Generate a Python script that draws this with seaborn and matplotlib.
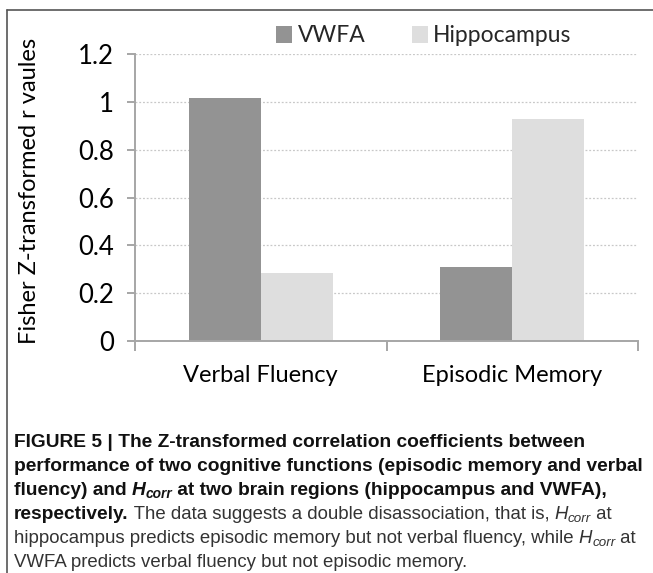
import matplotlib
matplotlib.use('Agg')
import matplotlib.pyplot as plt
import seaborn as sns
import pandas as pd
from matplotlib.lines import Line2D
from matplotlib.patches import Patch

# data
tasks = ['Verbal Fluency', 'Episodic Memory']
regions = ['VWFA', 'Hippocampus']
vwfa = [1.015, 0.31]
hippocampus = [0.285, 0.93]
y_ticks = [0, 0.2, 0.4, 0.6, 0.8, 1, 1.2]
y_tick_labels = ['0', '0.2', '0.4', '0.6', '0.8', '1', '1.2']
colors = {'VWFA': '#939393', 'Hippocampus': '#dedede'}

df = pd.DataFrame({
    'task': tasks + tasks,
    'region': ['VWFA'] * 2 + ['Hippocampus'] * 2,
    'value': vwfa + hippocampus,
})

sns.set_theme(style='white')
plt.rcParams['font.family'] = ['Lato', 'DejaVu Sans']

W, H = 653, 573
fig = plt.figure(figsize=(W / 100, H / 100), dpi=100)
ax = fig.add_axes([135 / W, 1 - 341 / H, 503 / W, 287 / H])

sns.barplot(data=df, x='task', y='value', hue='region', order=tasks,
            hue_order=regions, palette=colors, width=0.573, saturation=1,
            linewidth=0, legend=False, ax=ax)

ax.set_xlim(-0.5, 1.5)
ax.set_ylim(0, 1.2)
ax.set_yticks(y_ticks)
ax.set_yticklabels(y_tick_labels)
ax.set_xlabel('')
ax.set_ylabel('')
ax.set_axisbelow(True)
ax.yaxis.grid(True, linestyle=(0, (1.5, 1.5)), color='#c8c8c8', linewidth=0.9)
ax.xaxis.grid(False)

axis_grey = '#a6a6a6'
for side in ['top', 'right']:
    ax.spines[side].set_visible(False)
for side in ['left', 'bottom']:
    ax.spines[side].set_color(axis_grey)
    ax.spines[side].set_linewidth(1.4)

ax.tick_params(axis='y', which='major', left=True, length=6, width=1.4,
               color=axis_grey, labelsize=18.5, labelcolor='black', pad=9)
ax.tick_params(axis='x', which='major', length=0, labelsize=17,
               labelcolor='black', pad=17)
ax.set_xticks([-0.5, 0.5, 1.5], minor=True)
ax.tick_params(axis='x', which='minor', bottom=True, length=7, width=1.4,
               color=axis_grey)

fig.text(30 / W, 1 - 191 / H, 'Fisher Z-transformed r vaules', rotation=90,
         ha='center', va='center', fontsize=17, color='black')

handles = [Patch(facecolor=colors[r], edgecolor='none', label=r) for r in regions]
fig.legend(handles=handles, loc='center', bbox_to_anchor=(424 / W, 1 - 36 / H),
           ncol=2, frameon=False, fontsize=16.5, handlelength=0.7,
           handleheight=0.7, handletextpad=0.25, columnspacing=2.0,
           borderpad=0)

# frame lines (top and left) around the figure panel
fig.add_artist(Line2D([7 / W, 1], [1 - 10 / H, 1 - 10 / H], color='#555555',
                      linewidth=1.2, transform=fig.transFigure))
fig.add_artist(Line2D([7 / W, 7 / W], [1 - 10 / H, 0], color='#555555',
                      linewidth=1.2, transform=fig.transFigure))

# caption, written run by run so bold / italic / subscript can mix
renderer = fig.canvas.get_renderer()
cap_font = ['Liberation Sans', 'DejaVu Sans']


def text_width(s, **kw):
    t = fig.text(0, 0, s + '.', **kw)
    w1 = t.get_window_extent(renderer).width
    t.set_text('.')
    w2 = t.get_window_extent(renderer).width
    t.remove()
    return w1 - w2


def draw_line(x, y, runs):
    for s, bold, italic, sub in runs:
        size = 13.75 if bold else 13.45
        if sub:
            size *= 0.72
        kw = dict(fontsize=size, family=cap_font,
                  fontweight='bold' if bold else 'normal',
                  fontstyle='italic' if italic else 'normal',
                  color='#111111' if bold else '#333333')
        yy = y + 3 if sub else y
        fig.text(x / W, 1 - yy / H, s, va='baseline', ha='left', **kw)
        x += text_width(s, **kw)


def hcorr(bold):
    return [('H', bold, True, False), ('corr', bold, True, True)]


lines = [
    [('FIGURE 5 | The Z-transformed correlation coefficients between', True, False, False)],
    [('performance of two cognitive functions (episodic memory and verbal', True, False, False)],
    [('fluency) and ', True, False, False)] + hcorr(True) +
    [(' at two brain regions (hippocampus and VWFA),', True, False, False)],
    [('respectively.', True, False, False),
     (' The data suggests a double disassociation, that is, ', False, False, False)] +
    hcorr(False) + [(' at', False, False, False)],
    [('hippocampus predicts episodic memory but not verbal fluency, while ', False, False, False)] +
    hcorr(False) + [(' at', False, False, False)],
    [('VWFA predicts verbal fluency but not episodic memory.', False, False, False)],
]

for i, runs in enumerate(lines):
    draw_line(14, 447 + 24.0 * i, runs)

fig.savefig('out.png', dpi=100)
